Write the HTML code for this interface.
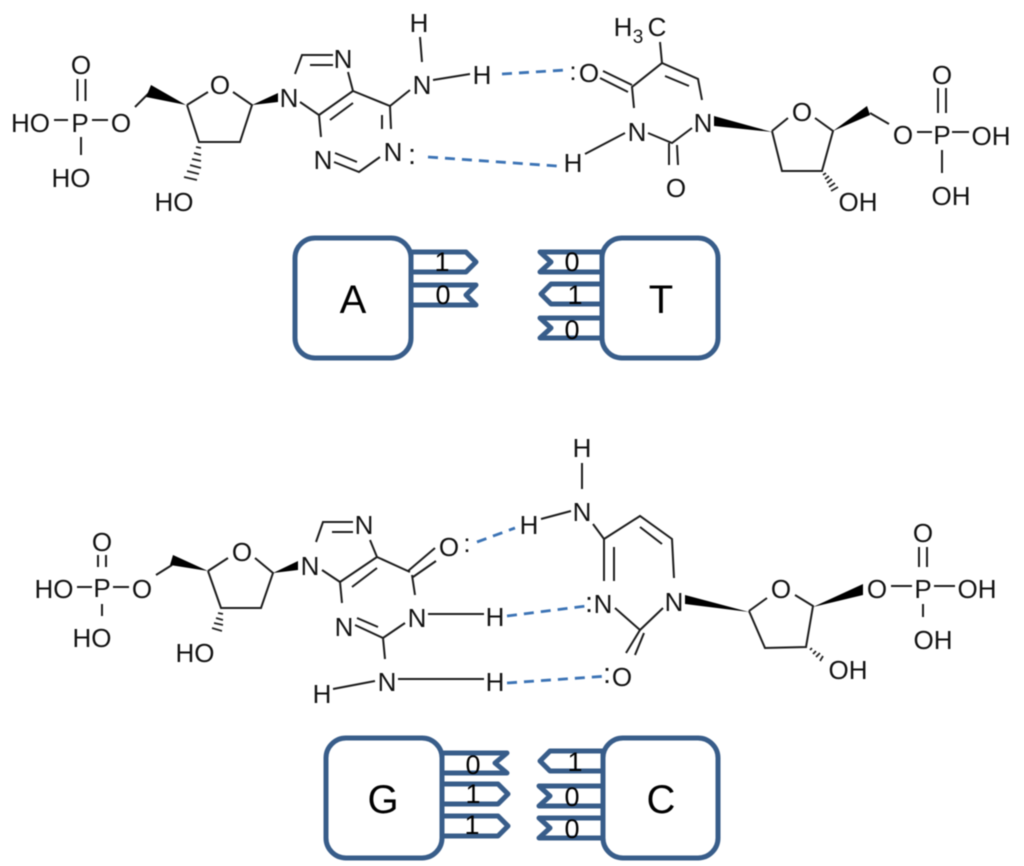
<!DOCTYPE html>
<html><head><meta charset="utf-8"><style>
html,body{margin:0;padding:0;background:#fff}
svg{display:block;filter:blur(.4px)}
text{font-family:"Liberation Sans",sans-serif;fill:#111;text-anchor:middle}
.a text{font-size:26px}
.a text.c{font-size:29px}
.b{fill:none;stroke:#1c1c1c;stroke-width:2;stroke-linecap:butt}
.w{fill:#000;stroke:none}
.h{fill:none;stroke:#222;stroke-width:1.8}
.d{fill:none;stroke:#3b73b5;stroke-width:2.8;stroke-dasharray:10 7}
.bx{fill:#fff;stroke:#385d8a;stroke-width:5}
.t{fill:#fff;stroke:#385d8a;stroke-width:5;stroke-linejoin:round}
.n text{font-size:27px;fill:#000}
.l text{font-size:40px;fill:#000}
</style></head><body>
<svg width="1024" height="866" viewBox="0 0 1024 866" xmlns="http://www.w3.org/2000/svg">
<!-- Top left: adenine -->
<path class="b" d="M77.5 79V101M85.5 79V101M54 120H68M92 120H108M81 137V155M135 107L150 92M187 105L208 92M233 92L252 105L240 142H199L187 105M295 74L302 55H333M310 65H333M348 72L353 91L319 115M353 103L330 120M300 102L319 115L321 137M353 91L390 106L410 90M420 37L422 62M433 80L470 74M390 106L391 129M382 115V129M380 157L359 172L334 162M357 162L335 153"/>
<polygon class="w" points="186,105 151,85 146,97"/>
<polygon class="w" points="252,105 278,93 278,102"/>
<path class="h" d="M196 147L201 148M194 153L201 155M192 159L201 161M190 165L201 168M187 171L199 174M184 177L197 180"/>
<g class="a">
<text x="81" y="74">O</text><text x="30.500" y="132">HO</text><text x="80" y="132">P</text><text x="121" y="132">O</text><text x="71" y="187">HO</text><text x="174" y="211">HO</text><text x="220" y="94">O</text><text x="289" y="107">N</text><text x="343" y="68">N</text><text x="419" y="32">H</text><text x="422" y="94">N</text><text x="482" y="84">H</text><text x="323" y="169">N</text><text x="393" y="161">N</text><text class="c" x="412" y="164">:</text>
</g>
<path class="d" d="M502 74L566 70"/>
<path class="d" d="M428 157L557 166"/>
<!-- Top right: thymine -->
<path class="b" d="M660 42L662 63L632 87L634 108M603 71L632 85M600 78L628 92M662 63L698 79L702 100M665 76L689 86M692 128L672 143L648 133M669 143V165M677 145L678 165M625 133L585 154M772 131L788 118M815 118L833 131L822 171H782L772 131M870 113L889 124M938 88V113M946 88V113M917 132H932M952 132H969M942 150V173"/>
<polygon class="w" points="714,116 714,126 772,132"/>
<polygon class="w" points="833,131 867,106 870,115"/>
<path class="h" d="M823 175L826 173M825 179L829 176M827 183L832 179M829 187L835 183M831 191L838 187"/>
<g class="a">
<text y="36"><tspan x="623">H</tspan><tspan x="638" y="43" font-size="19">3</tspan><tspan x="657" y="36">C</tspan></text>
<text x="573" y="80">:</text><text x="589" y="82">O</text><text x="637" y="141">N</text><text x="703" y="132">N</text><text x="676" y="197">O</text><text x="573" y="172">H</text><text x="802" y="121">O</text><text x="903" y="144">O</text><text x="942" y="144">P</text><text x="991" y="145">OH</text><text x="942" y="84">O</text><text x="951" y="205">OH</text><text x="858" y="211">OH</text>
</g>
<!-- A / T blocks -->
<path class="t" d="M411 252H466L476 262L466 272H411Z"/>
<path class="t" d="M411 285H476L466 295L476 305H411Z"/>
<rect class="bx" x="295" y="238" width="116" height="120" rx="20"/>
<path class="t" d="M602 252H540L551 262L540 272H602Z"/>
<path class="t" d="M602 284H551L541 294L551 304H602Z"/>
<path class="t" d="M602 318H540L551 328L540 338H602Z"/>
<rect class="bx" x="602" y="238" width="116" height="120" rx="20"/>
<g class="n"><text x="442" y="271">1</text><text x="443" y="304">0</text><text x="572" y="271">0</text><text x="575" y="304">1</text><text x="572" y="339">0</text></g>
<g class="l"><text x="353" y="313">A</text><text x="661" y="313">T</text></g>
<!-- Bottom left: guanine -->
<path class="b" d="M98 555V567M106 555V567M77 587H92M113 587H129M102 604V616M156 575L172 565M208 571L228 558M255 558L273 573L261 608H221L208 571M316 542L323 522H353M332 532H353M370 540L377 557L340 582M377 568L352 587M322 570L340 582L342 603M377 557L410 572M408 571L435 548M413 577L436 561M412 575L415 595M428 614H484M405 623L383 638L355 625M378 627L357 618M383 638L385 659M398 679H484M333 689L375 681"/>
<polygon class="w" points="208,571 173,555 170,565"/>
<polygon class="w" points="273,573 298,561 298,570"/>
<path class="h" d="M218 613L223 614M216 618L223 620M214 623L223 625M212 628L222 631"/>
<g class="a">
<text x="102" y="551">O</text><text x="54" y="598">HO</text><text x="102" y="597">P</text><text x="142" y="598">O</text><text x="92" y="647">HO</text><text x="242" y="561">O</text><text x="195" y="662">HO</text><text x="310" y="575">N</text><text x="364" y="534">N</text><text x="449" y="556">O</text><text x="467" y="552">:</text><text x="417" y="627">N</text><text x="495" y="626">H</text><text x="344" y="636">N</text><text x="387" y="691">N</text><text x="495" y="691">H</text><text x="322" y="703">H</text>
</g>
<path class="d" d="M477 542L515 528"/>
<path class="d" d="M507 616L586 606"/>
<path class="d" d="M507 683L608 676"/>
<!-- Bottom right: cytosine -->
<path class="b" d="M582 463V489M541 519L571 511M593 524L604 539L640 516L672 539L674 578M640 527L662 544M604 539V581M614 547V581M615 608L640 630L663 608M640 630L626 653M644 633L635 655M749 611L767 598M795 595L813 606L806 647L765 648L749 611M919 547V567M927 547V567M891 586H912M934 586H955M923 604V617"/>
<polygon class="w" points="685,595 685,604 749,612"/>
<polygon class="w" points="813,607 863,584 863,595"/>
<path class="h" d="M810 650L812 648M813 654L816 651M816 657L820 653M820 661L823 656"/>
<g class="a">
<text x="582" y="457">H</text><text x="582" y="521">N</text><text x="529" y="534">H</text><text x="674" y="611">N</text><text x="603" y="613">N</text><text class="c" x="589" y="612">:</text><text x="622" y="686">O</text><text class="c" x="607" y="683">:</text><text x="781" y="598">O</text><text x="848" y="679">OH</text><text x="877" y="598">O</text><text x="923" y="598">P</text><text x="923" y="542">O</text><text x="977" y="598">OH</text><text x="933" y="649">OH</text>
</g>
<!-- G / C blocks -->
<path class="t" d="M442 753H507L495 763L507 773H442Z"/>
<path class="t" d="M442 784H498L508 794L498 804H442Z"/>
<path class="t" d="M442 816H498L508 826L498 836H442Z"/>
<rect class="bx" x="326" y="738" width="116" height="120" rx="20"/>
<path class="t" d="M603 751H550L540 761L550 771H603Z"/>
<path class="t" d="M603 786H539L550 796L539 806H603Z"/>
<path class="t" d="M603 818H539L550 828L539 838H603Z"/>
<rect class="bx" x="603" y="738" width="115" height="120" rx="20"/>
<g class="n"><text x="473" y="774">0</text><text x="473" y="803">1</text><text x="472" y="834">1</text><text x="575" y="771">1</text><text x="572" y="806">0</text><text x="572" y="838">0</text></g>
<g class="l"><text x="383" y="813">G</text><text x="661" y="813">C</text></g>
</svg>
</body></html>
